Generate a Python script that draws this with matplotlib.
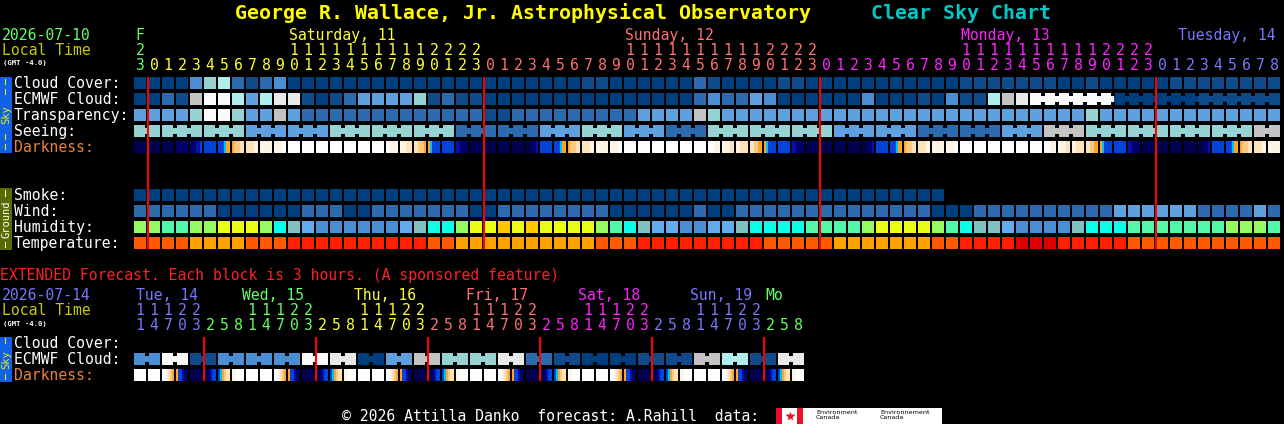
import numpy as np
import matplotlib.pyplot as plt
from matplotlib.patches import Rectangle


# ---------------- data ----------------
TITLE = 'George R. Wallace, Jr. Astrophysical Observatory'
SUBTITLE = 'Clear Sky Chart'

# hourly columns, Fri 23h .. Tue 8h
HOURS = [23,
         0, 1, 2, 3, 4, 5, 6, 7, 8, 9, 10, 11, 12, 13, 14, 15, 16, 17, 18, 19, 20, 21, 22, 23,
         0, 1, 2, 3, 4, 5, 6, 7, 8, 9, 10, 11, 12, 13, 14, 15, 16, 17, 18, 19, 20, 21, 22, 23,
         0, 1, 2, 3, 4, 5, 6, 7, 8, 9, 10, 11, 12, 13, 14, 15, 16, 17, 18, 19, 20, 21, 22, 23,
         0, 1, 2, 3, 4, 5, 6, 7, 8]
DAYS = ['F', 'Saturday, 11', 'Sunday, 12', 'Monday, 13', 'Tuesday, 14']
DAY_COLORS = ['#66ff66', '#ffff33', '#ff7070', '#ff22ff', '#7777ff']

# cloud cover / ECMWF / transparency in tenths (0 = clear/transparent)
CLOUD = [0, 0, 0, 0, 3, 6, 7, 2, 1, 2, 3,
         0, 0, 0, 0, 0, 0, 0, 0, 0, 0, 0, 0, 0, 0, 0, 0, 0, 0, 0, 0, 0,
         1, 1, 0, 0, 0, 0, 0, 0, 2, 1, 0, 0, 0, 0, 1, 1,
         0, 0, 0, 0, 0, 0, 0, 0, 0, 0, 0,
         1, 1, 1, 1, 1, 1, 1, 0, 0, 1, 0, 0, 0, 0, 0,
         1, 1, 1, 1, 1, 1, 1, 1]
ECMWF = [0, 0, 2, 1, 8, 10, 10, 7, 4, 7, 9, 9, 1, 0, 1, 2, 4, 4, 4, 4, 6, 1, 2, 1, 1,
         0, 0, 0, 0, 0, 0, 0, 0, 0, 0, 0, 0, 0, 0, 0,
         2, 3, 2, 2, 4, 3, 0, 0, 0, 0, 0, 0, 3, 0, 0, 0, 1, 0, 3, 1, 1,
         7, 8, 9, 10, 10, 10, 10, 10, 10,
         0, 0, 0, 0, 0, 0, 1, 1, 1, 1, 1, 1]
ECMWF_JOINED_FROM = 64   # 3-hourly ECMWF data from here on
TRANSPARENCY = [4, 4, 4, 4, 6, 10, 10, 6, 4, 4, 8, 4,
                2, 2, 2, 2, 2, 2, 2, 2, 2, 2, 2, 2, 2,
                1, 1, 2, 2, 2, 2, 2, 2, 2, 2, 2,
                4, 4, 4, 4, 8, 6,
                4, 4, 4, 4, 4, 4, 4, 4, 4, 4, 4, 4, 4, 4, 4, 4, 4, 4, 4, 4, 4, 4, 4, 4, 4, 4,
                6,
                4, 4, 4, 4, 4, 4, 4, 4, 4, 4, 4, 4, 4]
# seeing per 3-hour block (1 = bad .. 5 = excellent)
SEEING = [2, 2, 2, 3, 3, 2, 2, 2, 4, 4, 3, 2, 3, 4,
          2, 2, 2, 3, 3, 4, 4, 3, 1, 2, 2, 2, 2, 1]
# darkness, 6 samples per hour: 0 = dark .. 4 twilight blue/cyan .. 9 daylight
DARKNESS = ['000000', '000000', '000000', '111111', '111223', '333333', '333455', '566677',
            '777788', '888888', '888899', '999999', '999999', '999999', '999999', '999999',
            '999999', '999999', '998888', '888777', '776665', '543333', '333333', '221111',
            '000000', '000000', '000000', '000000', '000112', '333333', '333455', '566677',
            '777788', '888888', '888899', '999999', '999999', '999999', '999999', '999999',
            '999999', '999888', '888877', '887777', '776655', '543333', '333333', '221111',
            '000000', '000000', '000000', '000000', '000112', '333333', '333455', '566677',
            '777788', '888888', '888899', '999999', '999999', '999999', '999999', '999999',
            '999999', '999888', '888877', '887777', '776655', '543333', '333333', '221111',
            '000000', '000000', '000000', '000000', '000112', '333333', '333455', '566677',
            '777788', '888888']
SMOKE = [0, 0, 0, 0, 0, 0, 0, 0, 0, 0, 0, 0, 0, 0, 0, 0, 0, 0, 0, 0, 0, 0, 0, 0, 0, 0, 0, 0, 0,
         0, 0, 0, 0, 0, 0, 0, 0, 0, 0, 0, 0, 0, 0, 0, 0, 0, 0, 0, 0, 0, 0, 0, 0, 0, 0, 0, 0, 0]
# wind level: 0 = 0-5 mph, 1 = 6-11 mph, 2 = 12-16 mph
WIND = [1, 1, 1, 1, 1, 1, 0, 0, 0, 0, 0, 0, 1, 1, 1, 0, 0, 1, 1, 1, 1, 1, 1, 1, 0, 0,
        1, 1, 1, 1, 1, 1, 1, 1, 0, 0, 0, 0, 0, 0, 1, 0, 0,
        1, 1, 1, 1, 1, 1, 1, 1, 1, 1, 1, 1, 1, 1, 0, 0, 0,
        1, 1, 1, 1, 1, 1, 1, 1, 1, 1, 2, 2, 2, 2, 2, 2, 1, 1, 1, 1, 2, 1]
# relative humidity, %
HUMIDITY = [63, 63, 58, 58, 63, 63, 68, 68, 68, 63, 53, 48, 43, 38, 38, 38, 38, 38, 38, 43,
            48, 53, 53, 63, 68, 68, 73, 68, 73, 68, 68, 68, 68, 63, 58, 53, 48, 43, 43, 38,
            38, 43, 43, 48, 53, 53, 53, 53, 58, 58, 58, 58, 63, 68, 68, 68, 68, 63, 58, 53,
            48, 48, 43, 38, 38, 38, 38, 48, 53, 53, 53, 58, 58, 58, 58, 58, 58, 58, 63, 63,
            63, 58]
# temperature, F
TEMPERATURE = [71, 71, 71, 71, 66, 66, 66, 66, 71, 71, 71,
               77, 77, 77, 77, 77, 77, 77, 77, 77, 77, 71, 71,
               66, 66, 66, 66, 66, 66, 66, 66, 66, 66, 71, 71, 71,
               77, 77, 77, 77, 77, 77, 77, 77, 77, 71, 71, 71, 71, 71,
               66, 66, 66, 66, 66, 66, 66, 71, 71, 77, 77, 77, 77, 82, 82, 82,
               77, 77, 77, 77, 77, 71, 71, 71, 71, 71, 71, 71, 71, 71, 71, 71]

# extended forecast, 3-hour blocks
EXT_HOURS = [11, 14, 17, 20, 23,
             2, 5, 8, 11, 14, 17, 20, 23,
             2, 5, 8, 11, 14, 17, 20, 23,
             2, 5, 8, 11, 14, 17, 20, 23,
             2, 5, 8, 11, 14, 17, 20, 23,
             2, 5, 8, 11, 14, 17, 20, 23,
             2, 5, 8]
EXT_DAYS = ['Tue, 14', 'Wed, 15', 'Thu, 16', 'Fri, 17', 'Sat, 18', 'Sun, 19', 'Mo']
EXT_DAY_COLORS = ['#7777ff', '#66ff66', '#ffff33', '#ff7070', '#ff22ff', '#7777ff', '#66ff66']
EXT_ECMWF = [3, 10, 1, 3, 3, 3, 10, 9, 0, 4, 8, 6, 6, 9, 2, 1, 0, 0, 1, 1, 8, 7, 1, 9]  # per 6 h
EXT_DARKNESS = ['999999', '999999', '998765', '533210', '000000', '001233', '345677', '889999',
                '999999', '999999', '998765', '533210', '000000', '001233', '345677', '889999',
                '999999', '999999', '998765', '533210', '000000', '001233', '345677', '889999',
                '999999', '999999', '998765', '533210', '000000', '001233', '345677', '889999',
                '999999', '999999', '998765', '533210', '000000', '001233', '345677', '889999',
                '999999', '999999', '998765', '533210', '000000', '001233', '345677', '889999']

# ---------------- colour scales ----------------
CLOUD_COLORS = ['#003f7f', '#0f4a8a', '#2b6bae', '#4a8ed4', '#5fa0e0', '#78b8e8',
                '#96d4d4', '#aeeeee', '#c3c3c3', '#e9e9e9', '#fbfbfb']
SEEING_COLORS = {1: '#c3c3c3', 2: '#96d4d4', 3: '#5fa0e0', 4: '#2b6bae', 5: '#003f7f'}
WIND_COLORS = ['#003f7f', '#2b6bae', '#5fa0e0']
DARK_COLORS = ['#000050', '#00006c', '#0012a6', '#0044d8', '#00c0ff',
               '#ffa230', '#ffca80', '#ffe2b8', '#fff3e4', '#ffffff']
HUM_EDGES = [40, 45, 50, 55, 60, 65, 70]
HUM_COLORS = ['#4a8ed4', '#64aaee', '#80c0c0', '#0affe8', '#52f8a8', '#96fa64', '#eafd16', '#ffc800']
TEMP_EDGES = [68, 74, 80]
TEMP_COLORS = ['#ffa200', '#ff5a00', '#ff1e00', '#e00000']

X0, PITCH, W, H = 134, 14, 12, 12
MONO = 'DejaVu Sans Mono'

fig = plt.figure(figsize=(12.84, 4.24), dpi=100, facecolor='black')
ax = fig.add_axes([0, 0, 1, 1])
ax.set_xlim(0, 1284)
ax.set_ylim(424, 0)
ax.axis('off')
ax.set_facecolor('black')


def rect(x, y, w, h, c):
    ax.add_patch(Rectangle((x, y), w, h, facecolor=c, edgecolor='none', lw=0))


def draw_row(top, colors, links=None):
    n = len(colors)
    for i, c in enumerate(colors):
        linked = links is not None and i < n - 1 and links[i]
        rect(X0 + i * PITCH, top, W + (PITCH - W if linked else 0), H, c)
    if links is not None:
        for i in range(n - 1):
            if links[i]:
                xn = X0 + (i + 1) * PITCH - 3
                rect(xn, top, 4, 3, 'black')
                rect(xn, top + H - 3, 4, 3, 'black')


def draw_dark(top, samples):
    for i, s in enumerate(samples):
        step = W / len(s)
        for k, ch in enumerate(s):
            rect(X0 + i * PITCH + k * step, top, step + 0.05, H, DARK_COLORS[int(ch)])


def text(x, y, s, c='white', size=10.6, **kw):
    ax.text(x, y, s, color=c, fontsize=size, family=MONO, va='baseline', **kw)


def side_bar(top, bottom, fill, label, colour, dashes):
    # coloured strip on the left with a rotated label and dash marks
    rect(0, top, 12, bottom - top, fill)
    ax.text(6, (top + bottom) / 2, label, color=colour, fontsize=7.5, family=MONO,
            rotation=90, ha='center', va='center')
    for y0, y1 in dashes:
        rect(5, y0, 1.3, y1 - y0, colour)


# ---------------- title ----------------
text(235, 19, TITLE, '#ffff00', 14.3, fontweight='bold')
text(871, 19, SUBTITLE, '#00c8c8', 14.3, fontweight='bold')

# ---------------- main header ----------------
day_idx = np.cumsum([0] + [1 if h == 0 else 0 for h in HOURS[1:]])
text(2, 40, '2026-07-10', '#66ff66')
text(2, 55, 'Local Time', '#c8c800')
text(3, 65, '(GMT -4.0)', 'white', 5.2, fontweight='bold')
for i, h in enumerate(HOURS):
    xc = X0 + i * PITCH + W / 2
    col = DAY_COLORS[day_idx[i]]
    text(xc, 70, str(h % 10), col, ha='center')
    if h >= 10:
        text(xc, 55, str(h // 10), col, ha='center')
for d, name in enumerate(DAYS):
    cols = [i for i in range(len(HOURS)) if day_idx[i] == d]
    if d == 0:
        text(X0 + cols[0] * PITCH + W / 2, 40, name, DAY_COLORS[d], ha='center')
    elif 10 in [HOURS[i] for i in cols]:
        i10 = [i for i in cols if HOURS[i] == 10][0]
        text(X0 + i10 * PITCH + 1, 40, name, DAY_COLORS[d])
    else:
        text(1276, 40, name, DAY_COLORS[d], ha='right')

# ---------------- sky rows ----------------
SKY_TOP, ROW = 77, 16
sky_labels = ['Cloud Cover:', 'ECMWF Cloud:', 'Transparency:', 'Seeing:', 'Darkness:']
for r, lab in enumerate(sky_labels):
    text(14, SKY_TOP + r * ROW + 11, lab, '#e8803c' if lab == 'Darkness:' else 'white')

draw_row(SKY_TOP, [CLOUD_COLORS[v] for v in CLOUD])
ecmwf_links = [i >= ECMWF_JOINED_FROM for i in range(len(ECMWF))]
draw_row(SKY_TOP + ROW, [CLOUD_COLORS[v] for v in ECMWF], ecmwf_links)
draw_row(SKY_TOP + 2 * ROW, [CLOUD_COLORS[v] for v in TRANSPARENCY])
block = np.cumsum([0] + [1 if h % 3 == 1 else 0 for h in HOURS[1:]])
draw_row(SKY_TOP + 3 * ROW, [SEEING_COLORS[SEEING[b]] for b in block],
         [block[i] == block[i + 1] for i in range(len(block) - 1)] + [False])
draw_dark(SKY_TOP + 4 * ROW, DARKNESS)

side_bar(77, 153, '#1060e8', 'Sky', '#f0f000',
         [(79, 85), (89, 95), (134, 140), (144, 150)])

# ---------------- ground rows ----------------
GR_TOP = 189
for r, lab in enumerate(['Smoke:', 'Wind:', 'Humidity:', 'Temperature:']):
    text(14, GR_TOP + r * ROW + 11, lab)
draw_row(GR_TOP, [CLOUD_COLORS[v] for v in SMOKE])
draw_row(GR_TOP + ROW, [WIND_COLORS[v] for v in WIND])
draw_row(GR_TOP + 2 * ROW, [HUM_COLORS[np.searchsorted(HUM_EDGES, v)] for v in HUMIDITY])
draw_row(GR_TOP + 3 * ROW, [TEMP_COLORS[np.searchsorted(TEMP_EDGES, v)] for v in TEMPERATURE])

side_bar(188, 250, '#5a6a00', 'Ground', 'white', [(190, 197), (242, 248)])

midnights = [i for i in range(1, len(HOURS)) if HOURS[i] == 0]
ax.vlines([X0 + i * PITCH - 0.5 for i in midnights], 77, 249, color='#ff0000', lw=1.5)

# ---------------- extended forecast ----------------
text(0, 280, 'EXTENDED Forecast. Each block is 3 hours. (A sponsored feature)', '#ff2020')
text(2, 300, '2026-07-14', '#7777ff')
text(2, 315, 'Local Time', '#c8c800')
text(3, 326, '(GMT -4.0)', 'white', 5.2, fontweight='bold')

ext_day = np.cumsum([0] + [1 if EXT_HOURS[j] < EXT_HOURS[j - 1] else 0
                           for j in range(1, len(EXT_HOURS))])
for j, h in enumerate(EXT_HOURS):
    xc = X0 + j * PITCH + W / 2
    col = EXT_DAY_COLORS[ext_day[j]]
    text(xc, 330, str(h % 10), col, ha='center')
    if h >= 10:
        text(xc, 315, str(h // 10), col, ha='center')
for d, name in enumerate(EXT_DAYS):
    cols = [j for j in range(len(EXT_HOURS)) if ext_day[j] == d]
    j11 = [j for j in cols if EXT_HOURS[j] == 11]
    if d == 0:
        x = X0 + cols[0] * PITCH + 2
    elif j11:
        x = X0 + j11[0] * PITCH - 4
    else:
        x = X0 + cols[0] * PITCH + 1
    text(x, 300, name, EXT_DAY_COLORS[d])

EXT_TOP = 337
for r, lab in enumerate(['Cloud Cover:', 'ECMWF Cloud:', 'Darkness:']):
    text(14, EXT_TOP + r * ROW + 11, lab, '#e8803c' if lab == 'Darkness:' else 'white')
ext_cols = [CLOUD_COLORS[EXT_ECMWF[j // 2]] for j in range(2 * len(EXT_ECMWF))]
draw_row(EXT_TOP + ROW, ext_cols, [j % 2 == 0 for j in range(len(ext_cols))])
draw_dark(EXT_TOP + 2 * ROW, EXT_DARKNESS)

side_bar(337, 382, '#1060e8', 'Sky', '#f0f000', [(338, 344), (374, 380)])

ext_mid = [j for j in range(1, len(EXT_HOURS)) if ext_day[j] != ext_day[j - 1]]
ax.vlines([X0 + j * PITCH for j in ext_mid], 337, 381, color='#ff0000', lw=1.5)

# ---------------- footer ----------------
text(342, 421, '\u00a9 2026 Attilla Danko  forecast: A.Rahill  data:')
rect(776, 408, 27, 16, 'white')
rect(776, 408, 6, 16, '#e8112d')
rect(797, 408, 6, 16, '#e8112d')
ax.plot([789.5], [415.5], marker='*', ms=7, color='#e8112d', mec='none')
rect(803, 408, 139, 16, 'white')
ax.text(816, 415, 'Environment\nCanada', color='black', fontsize=4.6, va='center',
        linespacing=1.0)
ax.text(880, 415, 'Environnement\nCanada', color='black', fontsize=4.6, va='center',
        linespacing=1.0)

fig.savefig('out.png', dpi=100, facecolor='black')
